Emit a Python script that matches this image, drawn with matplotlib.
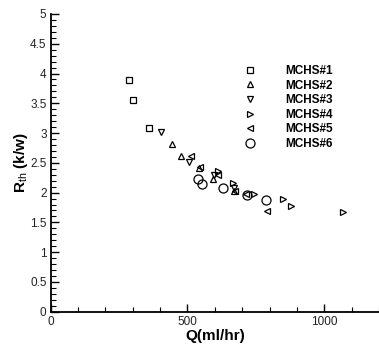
import matplotlib
matplotlib.use("Agg")
import matplotlib.pyplot as plt
from matplotlib.ticker import MultipleLocator

plt.rcParams['font.family'] = ['Liberation Sans', 'DejaVu Sans']
plt.rcParams['mathtext.fontset'] = 'custom'
plt.rcParams['mathtext.rm'] = 'Liberation Sans'
plt.rcParams['mathtext.bf'] = 'Liberation Sans:bold'

series_names = ["MCHS#1", "MCHS#2", "MCHS#3", "MCHS#4", "MCHS#5", "MCHS#6"]
q1 = [287, 301, 361]
r1 = [3.89, 3.56, 3.08]
q2 = [443, 476, 543, 594, 671]
r2 = [2.81, 2.62, 2.41, 2.23, 2.02]
q3 = [403, 507, 598, 671]
r3 = [3.02, 2.52, 2.30, 2.08]
q4 = [610, 668, 742, 850, 877, 1070]
r4 = [2.36, 2.16, 1.97, 1.89, 1.78, 1.68]
q5 = [511, 546, 612, 674, 715, 791]
r5 = [2.61, 2.43, 2.30, 2.03, 1.97, 1.69]
q6 = [539, 553, 631, 717, 787]
r6 = [2.23, 2.14, 2.07, 1.96, 1.88]

xs = [q1, q2, q3, q4, q5, q6]
ys = [r1, r2, r3, r4, r5, r6]
markers = ["s", "^", "v", ">", "<", "o"]
msizes = [4.5, 5, 5, 5, 5, 6.5]

fig = plt.figure(figsize=(3.79, 3.47), dpi=100)
ax = fig.add_axes([50.7/379, 1 - 311.7/347, 1 - 50.7/379, (311.7 - 14)/347])

for x, y, m, s, n in zip(xs, ys, markers, msizes, series_names):
    ax.plot(x, y, linestyle='none', marker=m, markersize=s, markerfacecolor='none',
            markeredgecolor='black', markeredgewidth=0.9, label=n)

ax.set_xlim(0, 1200)
ax.set_ylim(0, 5)
ax.xaxis.set_major_locator(MultipleLocator(500))
ax.xaxis.set_minor_locator(MultipleLocator(100))
ax.yaxis.set_major_locator(MultipleLocator(0.5))
ax.yaxis.set_minor_locator(MultipleLocator(0.1))
ax.set_yticks([0, 0.5, 1, 1.5, 2, 2.5, 3, 3.5, 4, 4.5, 5])
ax.set_yticklabels(["0", "0.5", "1", "1.5", "2", "2.5", "3", "3.5", "4", "4.5", "5"])
ax.set_xticks([0, 500, 1000])
ax.set_xticklabels(["0", "500", "1000"])

ax.spines['top'].set_visible(False)
ax.spines['right'].set_visible(False)
for sp in ['left', 'bottom']:
    ax.spines[sp].set_linewidth(1.3)
ax.tick_params(which='major', direction='in', length=6, width=1.0, labelsize=8.5, pad=3,
               labelcolor='#222222')
ax.tick_params(which='minor', direction='in', length=3.5, width=0.8)

ax.set_xlabel("Q(ml/hr)", fontsize=11, fontweight='bold', labelpad=0.5)
ax.set_ylabel(r"R$_{\rm th}$ (k/w)", fontsize=11, fontweight='bold', labelpad=0)

leg = ax.legend(loc='upper left', bbox_to_anchor=(244/379, 1 - 65/347),
                bbox_transform=fig.transFigure, frameon=False, borderpad=0,
                borderaxespad=0, handlelength=1.0, handletextpad=2.5,
                labelspacing=0.22, prop={'weight': 'bold', 'size': 8.5})

fig.savefig("out.png", dpi=100)
